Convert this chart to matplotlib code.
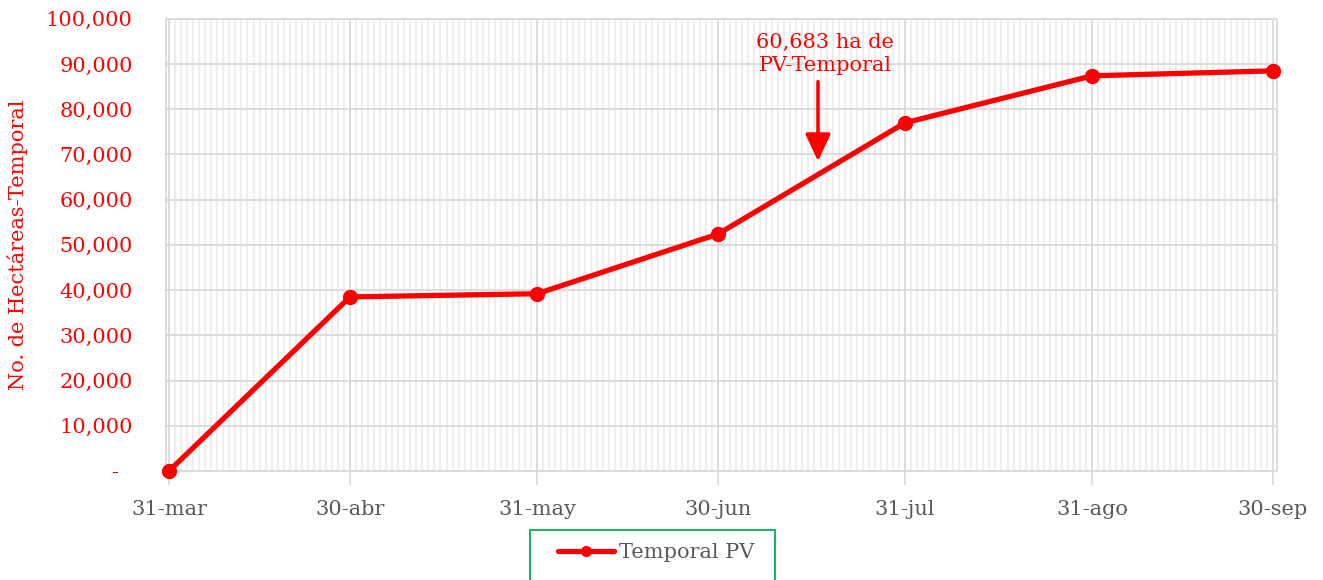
import datetime as dt
import matplotlib
matplotlib.use("Agg")
import matplotlib.pyplot as plt
import matplotlib.dates as mdates
from matplotlib.patches import Rectangle
from matplotlib.ticker import FuncFormatter, MultipleLocator

# data
fechas = ["2023-03-31", "2023-04-30", "2023-05-31", "2023-06-30",
          "2023-07-31", "2023-08-31", "2023-09-30"]
etiquetas = ["31-mar", "30-abr", "31-may", "30-jun", "31-jul", "31-ago", "30-sep"]
hectareas = [0, 38500, 39200, 52400, 77000, 87400, 88500]
serie = "Temporal PV"
nota = "60,683 ha de\nPV-Temporal"
flecha_fecha = "2023-07-16 14:00"
flecha_desde = 86100
flecha_hasta = 68500
nota_fecha = "2023-07-17 18:00"
nota_valor = 92300

RED = "#ff0000"
GRAY = "#595959"
FS = 15
plt.rcParams["font.family"] = ["DejaVu Serif"]

x = [dt.datetime.strptime(f, "%Y-%m-%d") for f in fechas]

fig = plt.figure(figsize=(13.23, 5.8), dpi=100)
ax = fig.add_axes([0.1255, 0.188, 0.8397, 0.7795])

ax.plot(x, hectareas, color=RED, lw=3.8, marker="o", ms=10,
        solid_capstyle="round", label=serie, zorder=5, clip_on=False)

# axes
ax.set_ylim(0, 100000)
ax.set_xlim(x[0] - dt.timedelta(hours=12), x[-1] + dt.timedelta(hours=16))
ax.yaxis.set_major_locator(MultipleLocator(10000))
ax.yaxis.set_major_formatter(FuncFormatter(
    lambda v, p: "-  " if v == 0 else f"{v:,.0f}"))
ax.set_xticks(x)
ax.set_xticklabels(etiquetas)
ax.xaxis.set_minor_locator(mdates.DayLocator())

ax.tick_params(axis="y", length=0, labelsize=FS, labelcolor=RED, pad=24)
ax.tick_params(axis="x", which="major", length=10, width=1.2, color="#d9d9d9",
               labelsize=FS, labelcolor=GRAY, pad=11)
ax.tick_params(axis="x", which="minor", length=0)

ax.grid(axis="y", color="#d9d9d9", lw=1.3)
ax.grid(axis="x", which="major", color="#d9d9d9", lw=1.3)
ax.grid(axis="x", which="minor", color="#eeeeee", lw=1.5)
ax.set_axisbelow(True)
for s in ax.spines.values():
    s.set_color("#d9d9d9")
    s.set_linewidth(1.3)

ax.set_ylabel("No. de Hectáreas-Temporal", color=RED, fontsize=FS)
ax.yaxis.set_label_coords(-0.124, 0.5)

# annotation
fx = dt.datetime.strptime(flecha_fecha, "%Y-%m-%d %H:%M")
ax.annotate("", xy=(fx, flecha_hasta), xytext=(fx, flecha_desde),
            arrowprops=dict(arrowstyle="-|>,head_width=0.35,head_length=0.75",
                            mutation_scale=22, color=RED, lw=2.6,
                            shrinkA=0, shrinkB=0))
nx = dt.datetime.strptime(nota_fecha, "%Y-%m-%d %H:%M")
ax.text(nx, nota_valor, nota, ha="center", va="center", color=RED,
        fontsize=FS, linespacing=1.25)

# legend with the green box running off the bottom edge
fig.patches.append(Rectangle((530 / 1323, -0.05), 245 / 1323, 0.05 + 50 / 580,
                             transform=fig.transFigure, fill=False,
                             edgecolor="#00b050", lw=1.3))
leg = fig.legend(loc="center", bbox_to_anchor=(0.496, 1 - 553 / 580),
                 frameon=False, fontsize=FS, handlelength=2.7,
                 handletextpad=0.25, borderaxespad=0, labelcolor=GRAY)
leg.legend_handles[0].set_markersize(7)

fig.savefig("out.png", dpi=100)
